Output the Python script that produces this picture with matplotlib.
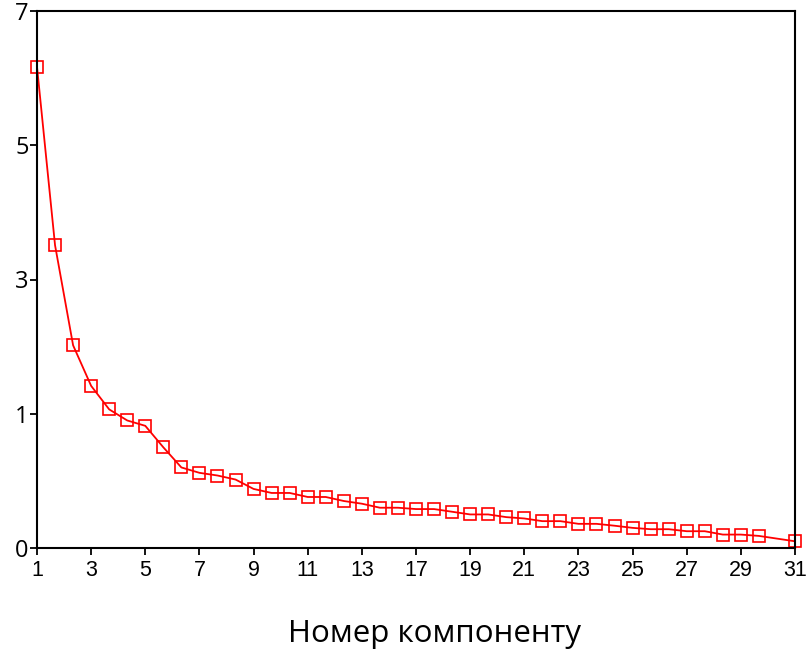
import matplotlib
matplotlib.use("Agg")
import matplotlib.pyplot as plt
import numpy as np

# marker index along the x axis (one slot at 41 is empty in the source)
comp_pos = list(range(0, 41)) + [42]
eigen = [6.17, 3.51, 2.02, 1.415, 1.065, 0.95, 0.91, 0.75, 0.60, 0.56,
         0.54, 0.51, 0.44, 0.41, 0.41, 0.38, 0.38, 0.35, 0.33, 0.30,
         0.30, 0.29, 0.29, 0.27, 0.25, 0.25, 0.23, 0.22, 0.20, 0.20,
         0.18, 0.18, 0.166, 0.15, 0.14, 0.14, 0.125, 0.125, 0.10, 0.10,
         0.09, 0.05]

xtick_pos = list(range(0, 43, 3))
xtick_labels = ["1", "3", "5", "7", "9", "11", "13", "17", "19", "21",
                "23", "25", "27", "29", "31"]
ytick_vals = [0, 1, 3, 5, 7]


# axis is linear 0..1, then compressed by 2 above 1
def fwd(y):
    y = np.asarray(y, dtype=float)
    return np.where(y <= 1, y, 1 + (y - 1) / 2)


def inv(y):
    y = np.asarray(y, dtype=float)
    return np.where(y <= 1, y, 1 + (y - 1) * 2)


fig = plt.figure(figsize=(8.08, 6.52), dpi=100)
ax = fig.add_axes([37 / 808, 1 - 548 / 652, (795 - 37) / 808, (548 - 11) / 652])

ax.plot(comp_pos, eigen, color="red", lw=1.3,
        marker="s", markersize=9, markerfacecolor="none",
        markeredgecolor="red", markeredgewidth=1.2, clip_on=False)

ax.set_yscale("function", functions=(fwd, inv))
ax.set_ylim(0, 7)
ax.set_xlim(0, 42)

ax.set_xticks(xtick_pos)
ax.set_xticklabels(xtick_labels, family="Liberation Sans", fontsize=15.5)
ax.set_yticks(ytick_vals)
ax.set_yticklabels([str(v) for v in ytick_vals], family="Open Sans", fontsize=17)
ax.tick_params(axis="x", length=5, width=1.3, pad=4)
ax.tick_params(axis="y", length=5, width=1.3, pad=1)

for s in ax.spines.values():
    s.set_linewidth(1.5)

fig.text(435 / 808, 10 / 652, "Номер компоненту", family="Open Sans",
         fontsize=22.5, ha="center", va="baseline")

fig.savefig("out.png", dpi=100)
